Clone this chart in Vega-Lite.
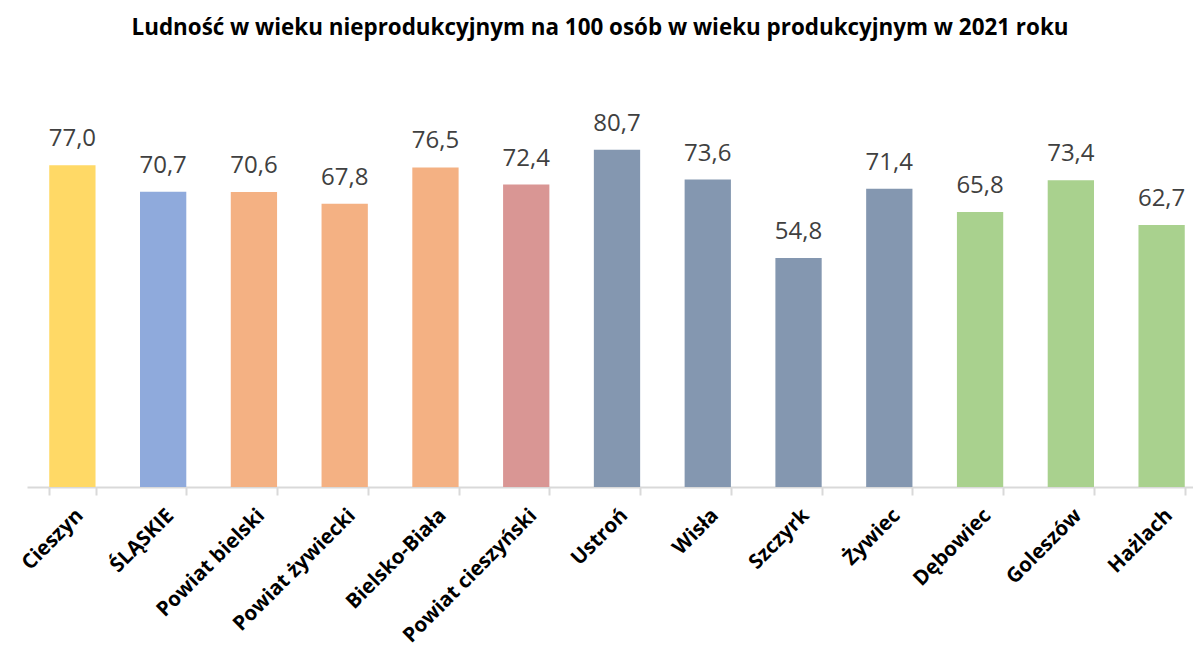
{
  "$schema": "https://vega.github.io/schema/vega-lite/v6.json",
  "autosize": "none",
  "width": 1166,
  "height": 376,
  "padding": {"left": 27, "right": 0, "top": 111, "bottom": 167},
  "background": "white",
  "title": {
    "text": "Ludność w wieku nieprodukcyjnym na 100 osób w wieku produkcyjnym w 2021 roku",
    "font": "Open Sans",
    "fontSize": 22.4,
    "fontWeight": "bold",
    "color": "#000000",
    "anchor": "middle",
    "dx": -10,
    "offset": 72
  },
  "data": {
    "values": [
      {"jednostka": "Cieszyn", "grupa": "miasto", "wartosc": 77.0},
      {"jednostka": "ŚLĄSKIE", "grupa": "województwo", "wartosc": 70.7},
      {"jednostka": "Powiat bielski", "grupa": "powiaty", "wartosc": 70.6},
      {"jednostka": "Powiat żywiecki", "grupa": "powiaty", "wartosc": 67.8},
      {"jednostka": "Bielsko-Biała", "grupa": "powiaty", "wartosc": 76.5},
      {"jednostka": "Powiat cieszyński", "grupa": "powiat cieszyński", "wartosc": 72.4},
      {"jednostka": "Ustroń", "grupa": "miasta", "wartosc": 80.7},
      {"jednostka": "Wisła", "grupa": "miasta", "wartosc": 73.6},
      {"jednostka": "Szczyrk", "grupa": "miasta", "wartosc": 54.8},
      {"jednostka": "Żywiec", "grupa": "miasta", "wartosc": 71.4},
      {"jednostka": "Dębowiec", "grupa": "gminy", "wartosc": 65.8},
      {"jednostka": "Goleszów", "grupa": "gminy", "wartosc": 73.4},
      {"jednostka": "Hażlach", "grupa": "gminy", "wartosc": 62.7}
    ]
  },
  "encoding": {
    "x": {
      "field": "jednostka",
      "type": "nominal",
      "sort": null,
      "scale": {"range": [0, 1180], "paddingInner": 0.49, "paddingOuter": 0.245},
      "axis": {
        "title": null,
        "labelAngle": -45,
        "labelFont": "Open Sans",
        "labelFontSize": 20.5,
        "labelFontWeight": "bold",
        "labelColor": "#000000",
        "labelPadding": 10,
        "labelLimit": 400,
        "labelOverlap": false,
        "domainColor": "#D9D9D9",
        "domainWidth": 2,
        "tickColor": "#D9D9D9",
        "tickWidth": 2,
        "tickSize": 8,
        "tickBand": "extent"
      }
    },
    "y": {
      "field": "wartosc",
      "type": "quantitative",
      "scale": {"domain": [0, 90]},
      "axis": null
    }
  },
  "layer": [
    {
      "mark": {"type": "bar"},
      "encoding": {
        "color": {
          "field": "grupa",
          "type": "nominal",
          "legend": null,
          "scale": {
            "domain": ["miasto", "województwo", "powiaty", "powiat cieszyński", "miasta", "gminy"],
            "range": ["#FFD966", "#8FAADC", "#F4B183", "#D99694", "#8497B0", "#A9D18E"]
          }
        }
      }
    },
    {
      "mark": {"type": "text", "baseline": "alphabetic", "dy": -19, "font": "Open Sans", "fontSize": 24, "color": "#404040"},
      "encoding": {
        "text": {"field": "wartosc", "type": "quantitative", "format": ".1f"}
      }
    }
  ],
  "config": {
    "view": {"stroke": null},
    "locale": {"number": {"decimal": ",", "thousands": " ", "grouping": [3], "currency": ["", " zł"]}}
  }
}
